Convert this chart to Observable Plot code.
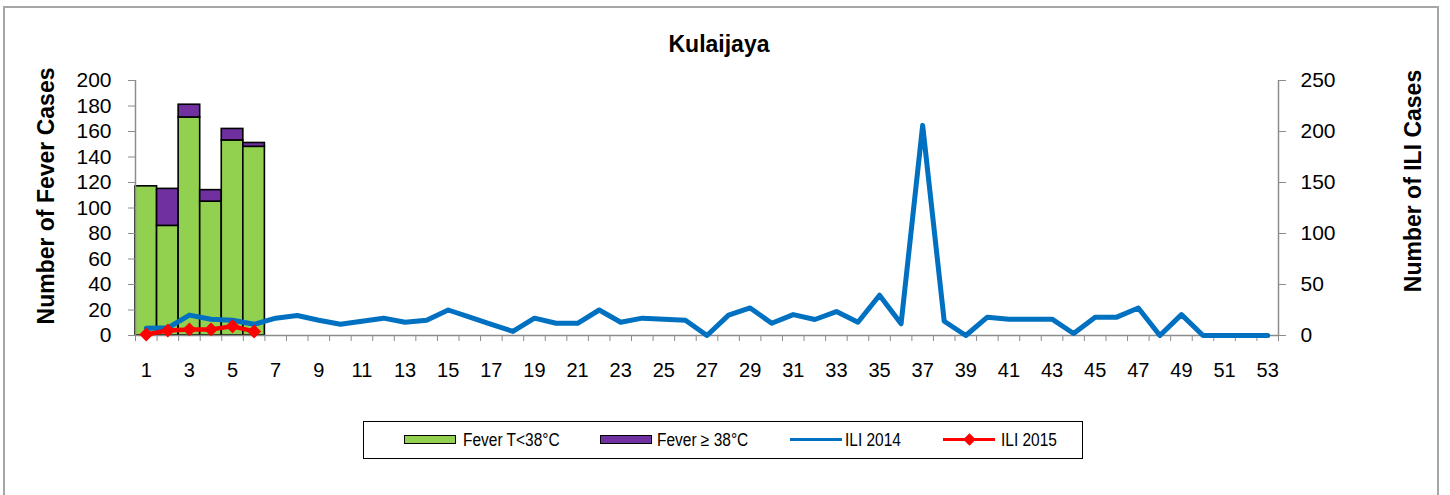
<!DOCTYPE html>
<html>
<head>
<meta charset="utf-8">
<script src="https://cdn.jsdelivr.net/npm/d3@7"></script>
<script src="https://cdn.jsdelivr.net/npm/@observablehq/plot@0.6"></script>
<style>
  html, body { margin: 0; padding: 0; background: white; }
  body { width: 1450px; height: 495px; position: relative; overflow: hidden; font-family: "Liberation Sans", Arial, sans-serif; }
  #frame { position: absolute; left: 3px; top: 6px; width: 1436px; height: 520px; border: 2px solid #a6a6a6; box-sizing: border-box; }
  #title { position: absolute; left: 0; width: 1438px; top: 33px; text-align: center; font-weight: bold; font-size: 23px; line-height: 23px; }
  #chart { position: absolute; left: 0; top: 56px; }
  #legend { position: absolute; left: 363px; top: 421px; width: 720px; height: 38px; border: 1.5px solid black; box-sizing: border-box; }
  .sw { position: absolute; top: 13px; width: 52px; height: 9px; border: 1.5px solid black; box-sizing: border-box; }
  .ln { position: absolute; top: 16px; width: 52px; height: 3px; }
  .lt { position: absolute; top: 8px; font-size: 18px; line-height: 20px; white-space: nowrap; transform: scaleX(0.86); transform-origin: left center; }
  .dm { position: absolute; top: 13px; width: 9px; height: 9px; background: #ff0000; transform: rotate(45deg); }
</style>
</head>
<body>
<div id="frame"></div>
<div id="title">Kulaijaya</div>
<div id="chart"></div>
<div id="legend">
  <div class="sw" style="left:40px;background:#92d050"></div>
  <div class="lt" style="left:99px">Fever T&lt;38°C</div>
  <div class="sw" style="left:236px;background:#7030a0"></div>
  <div class="lt" style="left:293px">Fever ≥ 38°C</div>
  <div class="ln" style="left:426px;background:#0070c0"></div>
  <div class="lt" style="left:481px">ILI 2014</div>
  <div class="ln" style="left:579px;background:#ff0000"></div>
  <div class="dm" style="left:601px"></div>
  <div class="lt" style="left:637px">ILI 2015</div>
</div>
<script>
// ---- data ----
const weeks = d3.range(1, 54);
const feverWeeks = [1, 2, 3, 4, 5, 6];
const feverLow = [117, 86, 171, 105, 153, 148];   // Fever T<38°C
const feverHigh = [0, 29, 10, 9, 9, 3];           // Fever ≥ 38°C
const ili2014 = [7, 7.5, 20, 16, 15, 11, 17, 19.6, 15, 11,
                 14, 17, 13, 15, 25, 18, 11, 4, 17, 12,
                 12, 25, 13, 17, 16, 15, 0, 20, 27, 12,
                 20.5, 15.7, 23.5, 13, 39.5, 11.5, 206, 14, 0, 18,
                 16, 16, 16, 2, 18, 18, 27, 0, 20.5, 0,
                 0, 0, 0];
const ili2015 = [1, 5, 6, 6, 9, 4];
const leftTicks = d3.range(0, 201, 20);
const rightTicks = [0, 50, 100, 150, 200, 250];
const xLabels = d3.range(1, 54, 2);

const leftMax = 200, rightMax = 250;
const k = leftMax / rightMax;

const bars = [];
feverWeeks.forEach((w, i) => {
  bars.push({week: w, type: "low", y1: 0, y2: feverLow[i]});
  if (feverHigh[i] > 0) bars.push({week: w, type: "high", y1: feverLow[i], y2: feverLow[i] + feverHigh[i]});
});
const line14 = weeks.map((w, i) => ({week: w, v: ili2014[i]}));
const line15 = feverWeeks.map((w, i) => ({week: w, v: ili2015[i]}));

const gray = "#8c8c8c";

const chart = Plot.plot({
  width: 1450,
  height: 334,
  marginLeft: 135,
  marginRight: 172,
  marginTop: 24,
  marginBottom: 55,
  style: {fontFamily: "'Liberation Sans', Arial, sans-serif", fontSize: "21px", color: "black", background: "transparent", overflow: "visible"},
  x: {domain: [0.5, 53.5]},
  y: {domain: [0, leftMax]},
  marks: [
    Plot.rect(bars, {
      x1: d => d.week - 0.5, x2: d => d.week + 0.5, y1: "y1", y2: "y2",
      fill: d => d.type === "low" ? "#92d050" : "#7030a0",
      stroke: "black", strokeWidth: 1.6
    }),
    // axes
    Plot.ruleY([0], {stroke: gray, strokeWidth: 1.5}),
    Plot.ruleX([0.5, 53.5], {stroke: gray, strokeWidth: 1.5}),
    Plot.axisY({ticks: leftTicks, tickSize: 7, tickPadding: 17, stroke: gray, fill: "black", label: null, fontSize: 21}),
    Plot.axisY({anchor: "right", ticks: rightTicks.map(t => t * k), tickFormat: d => Math.round(d / k), tickSize: 7, tickPadding: 15, stroke: gray, fill: "black", label: null, fontSize: 21}),
    Plot.axisX({ticks: d3.range(0.5, 54, 1), tickFormat: () => "", tickSize: 6, stroke: gray, label: null}),
    Plot.axisX({ticks: xLabels, tickSize: 0, tickPadding: 27, fill: "black", label: null, fontSize: 20}),
    // lines
    Plot.line(line14, {x: "week", y: d => d.v * k, stroke: "#0070c0", strokeWidth: 5, strokeLinejoin: "round", strokeLinecap: "round"}),
    Plot.line(line15, {x: "week", y: d => d.v * k, stroke: "#ff0000", strokeWidth: 4.5, strokeLinejoin: "round"}),
    Plot.dot(line15, {x: "week", y: d => d.v * k, symbol: "diamond2", r: 6.3, fill: "#ff0000", stroke: "none"}),
    // axis titles
    Plot.text(["Number of Fever Cases"], {frameAnchor: "left", dx: -89, dy: -12, rotate: -90, textAnchor: "middle", lineAnchor: "middle", fontWeight: "bold", fontSize: 23, fill: "black"}),
    Plot.text(["Number of ILI Cases"], {frameAnchor: "right", dx: 135, dy: -27, rotate: -90, textAnchor: "middle", lineAnchor: "middle", fontWeight: "bold", fontSize: 23, fill: "black"})
  ]
});
document.getElementById("chart").appendChild(chart);
</script>
</body>
</html>
